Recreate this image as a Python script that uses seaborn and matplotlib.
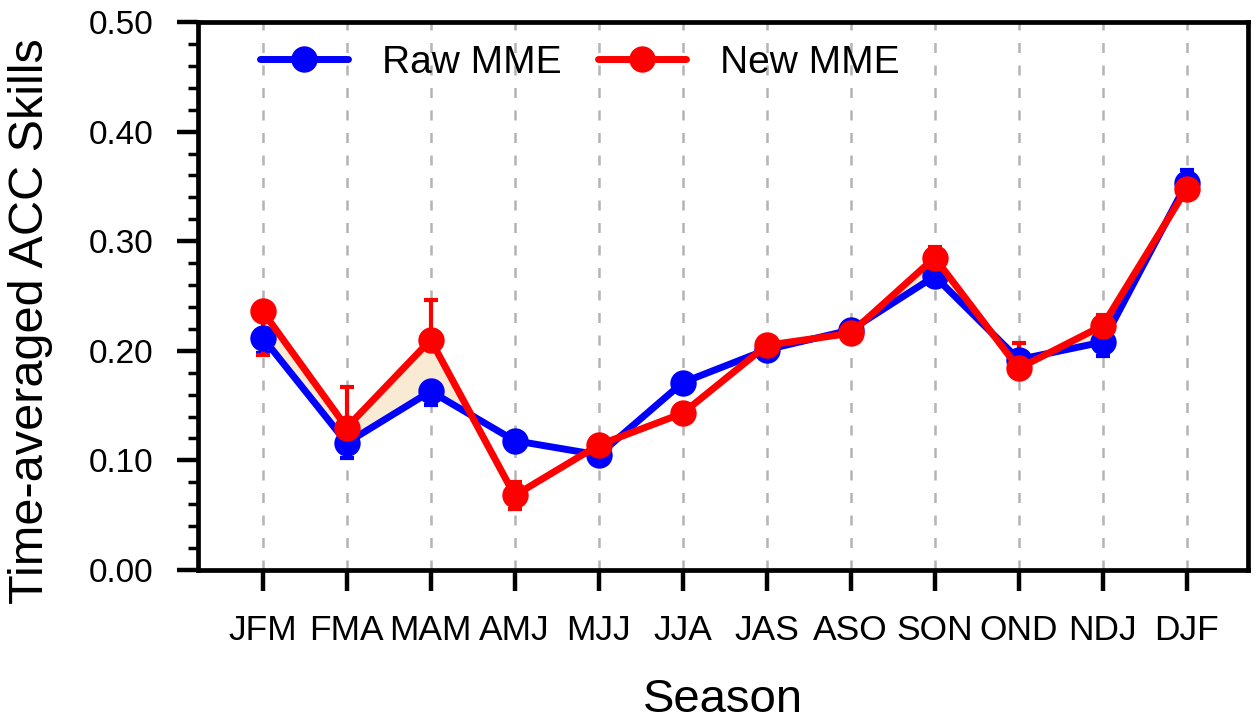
import numpy as np
import pandas as pd
import seaborn as sns
import matplotlib
matplotlib.use("Agg")
import matplotlib.pyplot as plt
from matplotlib.ticker import MultipleLocator, FormatStrFormatter
from matplotlib.lines import Line2D

seasons = ["JFM", "FMA", "MAM", "AMJ", "MJJ", "JJA", "JAS", "ASO", "SON", "OND", "NDJ", "DJF"]
raw_mme = [0.212, 0.116, 0.163, 0.118, 0.105, 0.171, 0.201, 0.219, 0.268, 0.192, 0.208, 0.353]
new_mme = [0.236, 0.130, 0.210, 0.068, 0.114, 0.143, 0.205, 0.216, 0.285, 0.184, 0.223, 0.348]
# lower / upper spread of each ensemble
raw_lo = [0.014, 0.014, 0.012, 0.006, 0.006, 0.006, 0.006, 0.006, 0.006, 0.008, 0.013, 0.006]
raw_hi = [0.006, 0.006, 0.006, 0.006, 0.006, 0.006, 0.006, 0.006, 0.006, 0.006, 0.006, 0.012]
new_lo = [0.040, 0.006, 0.008, 0.012, 0.006, 0.006, 0.006, 0.006, 0.006, 0.006, 0.008, 0.006]
new_hi = [0.006, 0.037, 0.036, 0.012, 0.006, 0.006, 0.006, 0.006, 0.010, 0.023, 0.010, 0.006]

sns.set_theme(style="white")
plt.rcParams["font.family"] = ["Liberation Sans", "DejaVu Sans"]
for key in ("text.color", "axes.labelcolor", "xtick.color", "ytick.color"):
    plt.rcParams[key] = "black"

x = np.arange(len(seasons))
df = pd.DataFrame({
    "x": np.concatenate([x, x]),
    "skill": raw_mme + new_mme,
    "series": ["Raw MME"] * len(x) + ["New MME"] * len(x),
})

fig = plt.figure(figsize=(12.55, 7.21), dpi=100)
ax = fig.add_axes([198 / 1255, 1 - 570 / 721, 1050 / 1255, 548 / 721])

# shaded gain where the new ensemble beats the raw one
ax.fill_between(x, raw_mme, new_mme, where=np.array(new_mme) >= np.array(raw_mme),
                interpolate=True, color="#f8ead3", zorder=1, linewidth=0)

# vertical dashed guides at each season
for xi in x:
    ax.axvline(xi, color="#b4b4b4", linestyle=(0, (4, 5)), linewidth=1.8, zorder=0.5)

ax.errorbar(x, raw_mme, yerr=[raw_lo, raw_hi], fmt="none", ecolor="blue", elinewidth=3,
            capsize=5, capthick=3, zorder=2)
ax.errorbar(x, new_mme, yerr=[new_lo, new_hi], fmt="none", ecolor="red", elinewidth=3,
            capsize=5, capthick=3, zorder=3)

sns.lineplot(data=df, x="x", y="skill", hue="series", hue_order=["Raw MME", "New MME"],
             palette={"Raw MME": "blue", "New MME": "red"}, marker="o",
             markersize=19, markeredgewidth=0, linewidth=5, legend=False,
             ax=ax, zorder=4)

ax.set_xlim(-0.77, 11.73)
ax.set_ylim(0, 0.5)
ax.set_xticks(x)
ax.set_xticklabels(seasons)
ax.yaxis.set_major_locator(MultipleLocator(0.1))
ax.yaxis.set_minor_locator(MultipleLocator(0.02))
ax.yaxis.set_major_formatter(FormatStrFormatter("%.2f"))

ax.tick_params(axis="both", which="major", direction="out", length=15, width=3.2,
               color="black", left=True, bottom=True)
ax.tick_params(axis="y", which="major", labelsize=24, pad=17)
ax.tick_params(axis="x", which="major", labelsize=25.5, pad=17)
ax.tick_params(axis="y", which="minor", direction="out", length=7, width=2.5,
               color="black", left=True)
for sp in ax.spines.values():
    sp.set_visible(True)
    sp.set_color("black")
    sp.set_linewidth(3.4)

ax.set_xlabel("Season", fontsize=34, labelpad=22)
ax.set_ylabel("Time-averaged ACC Skills", fontsize=35)
ax.yaxis.set_label_coords(-0.138, 0.455)

handles = [
    Line2D([0], [0], color="blue", linewidth=5, marker="o", markersize=19, markeredgewidth=0),
    Line2D([0], [0], color="red", linewidth=5, marker="o", markersize=19, markeredgewidth=0),
]
ax.legend(handles, ["Raw MME", "New MME"], loc="center left", ncol=2, frameon=False,
          fontsize=28, bbox_to_anchor=(0.059, 0.925), borderpad=0, borderaxespad=0,
          handlelength=2.26, columnspacing=0.95, handletextpad=0.87)

fig.savefig("out.png", dpi=100)
